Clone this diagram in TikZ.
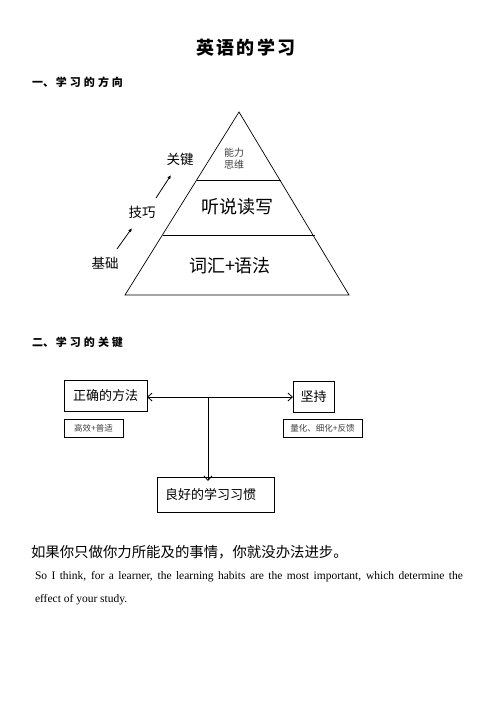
\documentclass[tikz,border=0pt]{standalone}
\usepackage{fontspec}
\setmainfont{Liberation Serif}
\newfontfamily\cjk{Noto Sans CJK SC}
\usetikzlibrary{arrows.meta}
\begin{document}
\begin{tikzpicture}[x=1pt,y=-1pt,
  every node/.style={inner sep=0pt,outer sep=0pt},
  pyr/.style={line width=0.7pt},
  boxed/.style={draw,line width=0.9pt,font=\cjk\fontsize{13}{13}\selectfont},
  smallbox/.style={draw,line width=0.9pt,font=\cjk\fontsize{8.5}{8.5}\selectfont,text=black!75},
  conn/.style={line width=0.8pt},
  barb/.tip={Straight Barb[length=4.5pt,width=8pt]},
  up/.style={line width=0.8pt,-{Latex[length=4pt,width=3.5pt]}}]
\useasboundingbox (0,0) rectangle (496,702);
% title
\node[font=\cjk\bfseries\fontsize{18}{18}\selectfont] (title) at (246,48) {英\hspace{2.5pt}语\hspace{2.5pt}的\hspace{2.5pt}学\hspace{2.5pt}习};
\node[anchor=west,font=\cjk\bfseries\fontsize{11}{11}\selectfont] (sec1) at (32,82) {一、\hspace{2pt}学\hspace{3pt}习\hspace{3pt}的\hspace{3pt}方\hspace{3pt}向};
% pyramid
\coordinate (apex) at (239,112);
\coordinate (bl) at (125,295);
\coordinate (br) at (349,295);
\coordinate (l1a) at (197,180);
\coordinate (l1b) at (281,180);
\coordinate (l2a) at (163,235);
\coordinate (l2b) at (315,235);
\draw[pyr] (bl) -- (apex) -- (br) -- cycle;
\draw[pyr] (l1a) -- (l1b);
\draw[pyr] (l2a) -- (l2b);
\node[font=\cjk\fontsize{10}{12}\selectfont,text=black!75,align=center] (top) at (234,159) {能力\\思维};
\node[font=\cjk\fontsize{18}{18}\selectfont] (mid) at (237,207) {听说读写};
\node[font=\cjk\fontsize{18}{18}\selectfont] (bot) at (230,266) {词汇+语法};
\node[font=\cjk\fontsize{13.5}{13.5}\selectfont] (key) at (180,159) {关键};
\node[font=\cjk\fontsize{13.5}{13.5}\selectfont] (skill) at (142,212) {技巧};
\node[font=\cjk\fontsize{13.5}{13.5}\selectfont] (base) at (105,263) {基础};
\coordinate (a1s) at (117,249);
\coordinate (a1e) at (132,228);
\coordinate (a2s) at (156,198);
\coordinate (a2e) at (171,175);
\draw[up] (a1s) -- (a1e);
\draw[up] (a2s) -- (a2e);
% section 2
\node[anchor=west,font=\cjk\bfseries\fontsize{11}{11}\selectfont] (sec2) at (32,342) {二、\hspace{2pt}学\hspace{3pt}习\hspace{3pt}的\hspace{3pt}关\hspace{3pt}键};
\node[boxed,minimum width=83pt,minimum height=31pt] (method) at (105.5,395.5) {正确的方法};
\node[boxed,minimum width=41pt,minimum height=31pt] (persist) at (313.5,396.5) {坚持};
\node[smallbox,minimum width=59pt,minimum height=18pt] (eff) at (93.5,428) {高效+普适};
\node[smallbox,minimum width=79pt,minimum height=18pt] (quant) at (322.5,428) {量化、细化+反馈};
\node[boxed,minimum width=117pt,minimum height=35pt] (habit) at (215.5,494.5) {\hspace*{-10pt}良好的学习习惯};
\coordinate (j) at (208,397);
\draw[conn,{barb}-{barb}] (method.east |- j) -- (persist.west |- j);
\draw[conn,-{barb}] (j) -- ([yshift=-4pt]habit.north -| j);
% text
\node[anchor=west,font=\cjk\fontsize{14.4}{14.4}\selectfont] (cn) at (31,552) {如果你只做你力所能及的事情，你就没办法进步。};
\node[anchor=west,font=\fontsize{11.5}{11.5}\selectfont] (en1) at (35,577) {\makebox[428pt][s]{So I think, for a learner, the learning habits are the most important, which determine the}};
\node[anchor=west,font=\fontsize{11.5}{11.5}\selectfont] (en2) at (35,600) {effect of your study.};
\end{tikzpicture}
\end{document}
